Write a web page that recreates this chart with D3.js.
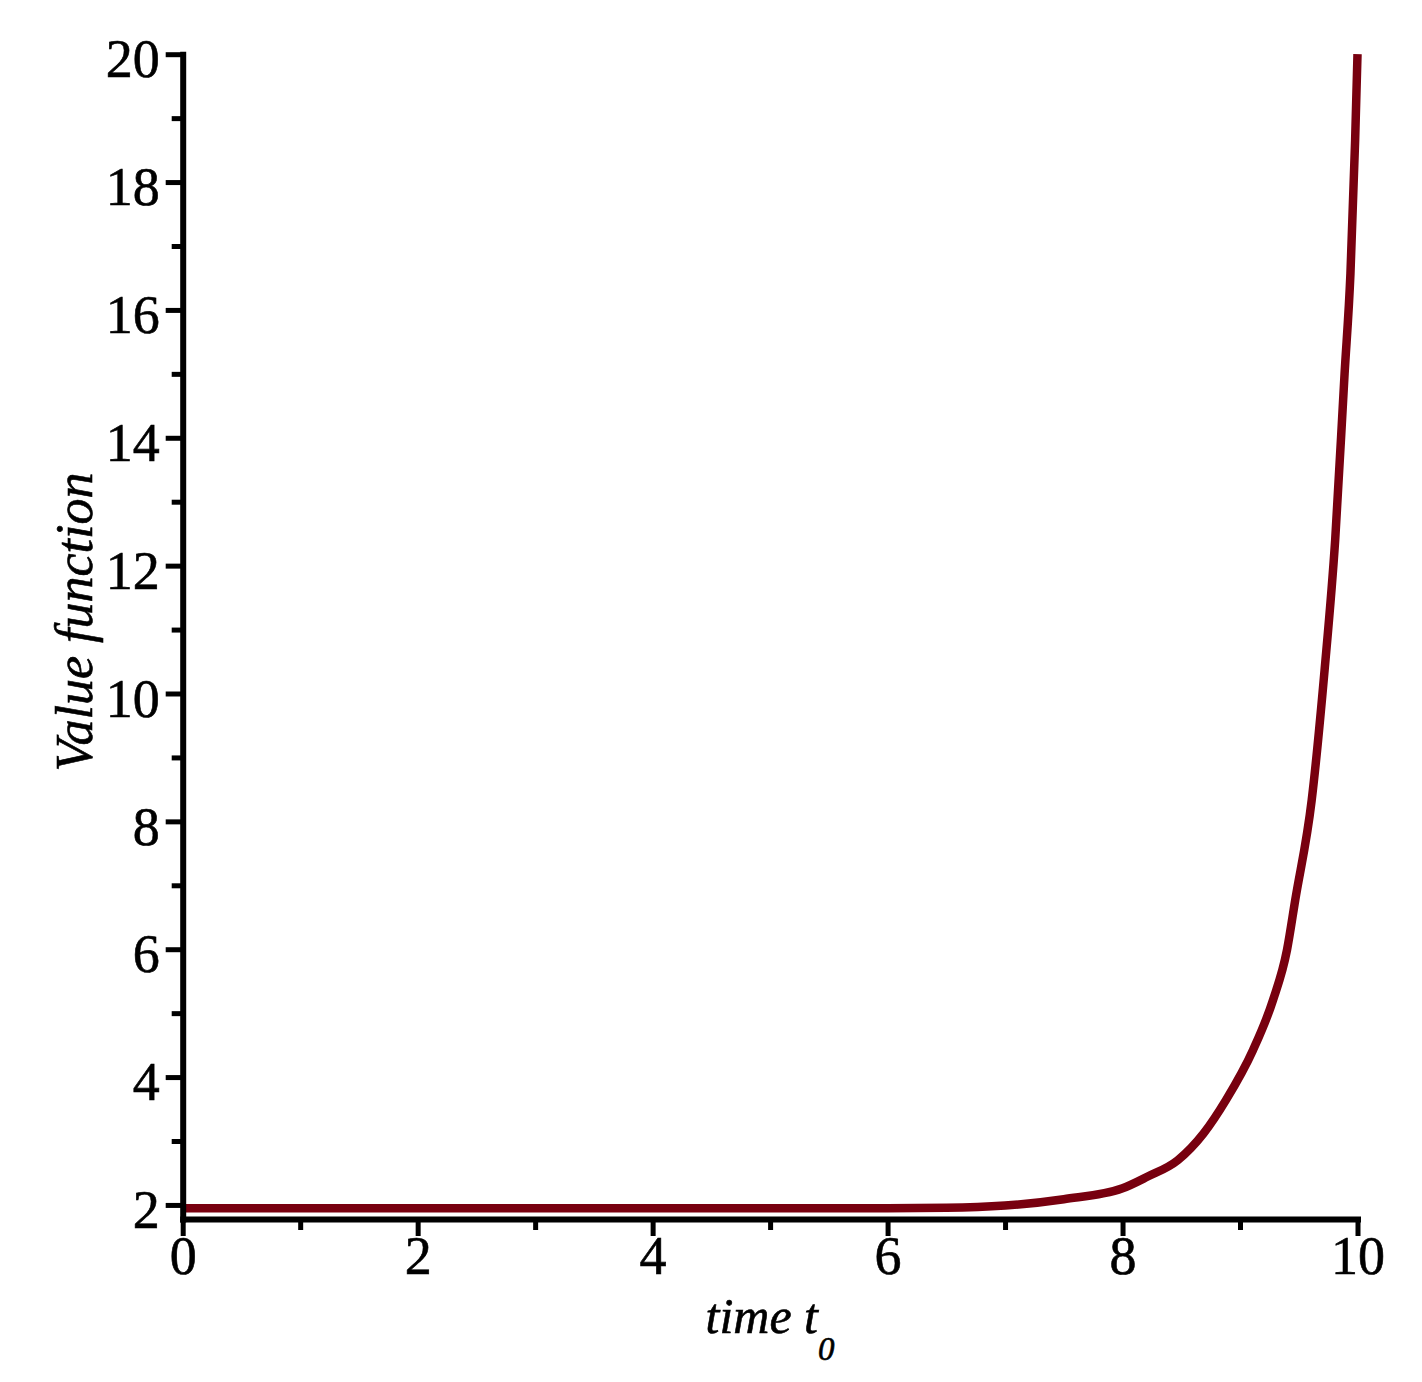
<!DOCTYPE html>
<html>
<head>
<meta charset="utf-8">
<script src="https://d3js.org/d3.v7.min.js"></script>
<style>
    body { margin: 0; background: #fff; }
    svg text { font-family: "Liberation Serif", "Times New Roman", serif; fill: #000; stroke: #000; stroke-width: 0.6px; }
</style>
</head>
<body>
<div id="chart"></div>
<script>
// curve: time t0 -> value function
const timeValues = [0, 1, 2, 3, 4, 5, 6, 6.5, 7, 7.5, 8, 8.21, 8.47, 8.69, 8.88, 9.11, 9.28, 9.40, 9.47, 9.61, 9.72, 9.81, 9.89, 9.94, 9.98, 10];
const valueFunction = [1.95, 1.95, 1.95, 1.95, 1.95, 1.95, 1.95, 1.955, 1.99, 2.09, 2.26, 2.44, 2.70, 3.12, 3.64, 4.42, 5.20, 5.99, 6.77, 8.33, 10.37, 12.40, 15.0, 16.57, 18.66, 20];

const xMajorTicks = [0, 2, 4, 6, 8, 10];
const xMinorTicks = [1, 3, 5, 7, 9];
const yMajorTicks = [2, 4, 6, 8, 10, 12, 14, 16, 18, 20];
const yMinorTicks = [3, 5, 7, 9, 11, 13, 15, 17, 19];

const width = 1422;
const height = 1382;

let svg = d3.select('#chart')
    .append('svg')
    .attr('width', width)
    .attr('height', height);

let x = d3.scaleLinear()
    .domain([0, 10])
    .range([182.7, 1357.5]);
let y = d3.scaleLinear()
    .domain([1.78, 20])
    .range([1219, 54.2]);

//curve
let data = timeValues.map((t, i) => [t, valueFunction[i]]);
let line = d3.line()
    .x(d => x(d[0]))
    .y(d => y(d[1]))
    .curve(d3.curveMonotoneX);
svg.append('path')
    .datum(data)
    .attr('fill', 'none')
    .attr('stroke', '#78000f')
    .attr('stroke-width', 8.5)
    .attr('d', line);

//minor ticks first, major axes on top
svg.append('g')
    .attr('transform', 'translate(0,' + y.range()[0] + ')')
    .call(d3.axisBottom(x).tickValues(xMinorTicks).tickSize(11).tickFormat(''))
    .call(g => g.select('.domain').remove())
    .call(g => g.selectAll('.tick line').attr('stroke', '#000').attr('stroke-width', 5));
svg.append('g')
    .attr('transform', 'translate(' + x.range()[0] + ',0)')
    .call(d3.axisLeft(y).tickValues(yMinorTicks).tickSize(11).tickFormat(''))
    .call(g => g.select('.domain').remove())
    .call(g => g.selectAll('.tick line').attr('stroke', '#000').attr('stroke-width', 5));

let xAxis = svg.append('g')
    .attr('transform', 'translate(0,' + y.range()[0] + ')')
    .call(d3.axisBottom(x).tickValues(xMajorTicks).tickSize(17).tickSizeOuter(0).tickPadding(0));
let yAxis = svg.append('g')
    .attr('transform', 'translate(' + x.range()[0] + ',0)')
    .call(d3.axisLeft(y).tickValues(yMajorTicks).tickSize(17).tickSizeOuter(0).tickPadding(6));

[xAxis, yAxis].forEach(g => {
    g.select('.domain')
        .attr('stroke', '#000')
        .attr('stroke-width', 6)
        .attr('stroke-linecap', 'square');
    g.selectAll('.tick line')
        .attr('stroke', '#000')
        .attr('stroke-width', 5);
    g.selectAll('.tick text')
        .style('font-family', '"Liberation Serif", serif')
        .style('font-size', '54px');
});
yAxis.selectAll('.tick text').attr('dy', '0.42em');

//axis titles
let xTitle = svg.append('text')
    .attr('x', 770)
    .attr('y', 1333)
    .attr('text-anchor', 'middle')
    .style('font-style', 'italic')
    .style('font-size', '50px');
xTitle.append('tspan').text('time t');
xTitle.append('tspan')
    .attr('dy', 27)
    .style('font-size', '33px')
    .text('0');

svg.append('text')
    .attr('transform', 'translate(92,622) rotate(-90)')
    .attr('text-anchor', 'middle')
    .style('font-style', 'italic')
    .style('font-size', '52px')
    .text('Value function');
</script>
</body>
</html>
